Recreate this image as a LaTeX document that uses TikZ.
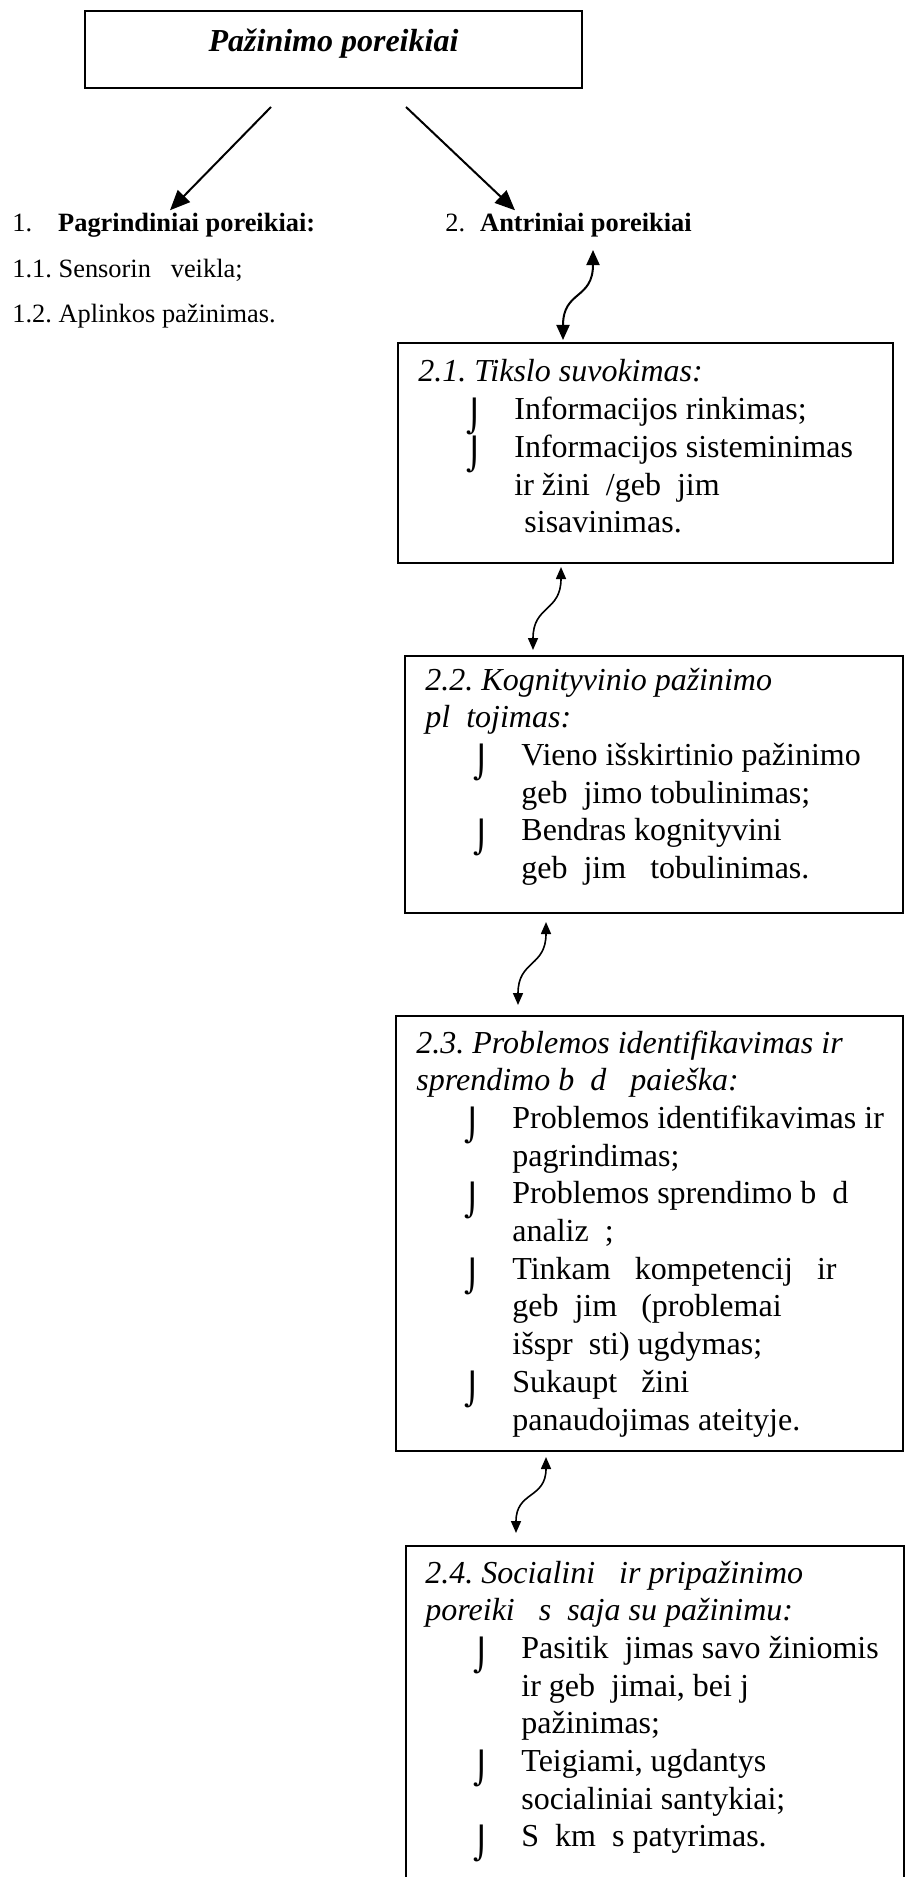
\documentclass[tikz,border=0pt]{standalone}
\usepackage{fontspec}
\setmainfont{Liberation Serif}
\newfontfamily\symfont{DejaVu Sans}
\usetikzlibrary{calc, arrows.meta}
\frenchspacing

% bullet line and continuation line inside the boxes
\newcommand{\itm}[1]{\hspace*{24pt}\makebox[24pt][l]{\raisebox{-4pt}[0pt][0pt]{\scalebox{1}[0.98]{\symfont\char"2321}}}#1}
\newcommand{\cnt}[1]{\hspace*{48pt}#1}

\begin{document}
\begin{tikzpicture}[
    x=0.5pt, y=-0.5pt,
    >={Triangle[length=10pt, width=8.5pt]},
    box/.style={rectangle, draw, line width=1pt, anchor=north west, inner sep=0pt},
    toplabel/.style={anchor=base west, inner sep=0pt, font=\fontsize{13.2}{15}\selectfont},
    boxtext/.style={anchor=base west, inner sep=0pt, font=\fontsize{16}{18.85}\selectfont},
    wave/.style={<->, line width=0.8pt, >={Triangle[length=6pt, width=5pt]}}
]

    \useasboundingbox (0,0) rectangle (904,1877);

    % Nodes ------------------------------------------------------

    \node[box, minimum width=248.5pt, minimum height=38.5pt] (top) at (84,10) {};
    \node[box, minimum width=247.5pt, minimum height=110pt] (b21) at (397,342) {};
    \node[box, minimum width=249pt, minimum height=128.5pt] (b22) at (404,655) {};
    \node[box, minimum width=253.5pt, minimum height=217.5pt] (b23) at (395,1015) {};
    \node[box, minimum width=249pt, minimum height=172.5pt] (b24) at (405,1545) {};

    % labels
    \node[anchor=base, inner sep=0pt, font=\fontsize{16}{19}\selectfont\bfseries\itshape]
        (title) at ($(top.north)+(0,42)$) {Pažinimo poreikiai};

    \node[toplabel] (p1) at (12,232) {1.\hspace*{13pt}\textbf{Pagrindiniai poreikiai:}};
    \node[toplabel] (p11) at (12,278) {1.1. Sensorin~~~veikla;};
    \node[toplabel] (p12) at (12,323) {1.2. Aplinkos pažinimas.};
    \node[toplabel] (p2) at (445,232) {2.\hspace*{7.5pt}\textbf{Antriniai poreikiai}};

    \node[boxtext] (t21) at ($(b21.north west)+(21,40)$) {\parbox[t]{240pt}{\raggedright
        \textit{2.1. Tikslo suvokimas:}\\
        \itm{Informacijos rinkimas;}\\
        \itm{Informacijos sisteminimas}\\
        \cnt{ir žini~~/geb~~jim}\\
        \cnt{\hspace*{5pt}sisavinimas.}}};

    \node[boxtext] (t22) at ($(b22.north west)+(21,35)$) {\parbox[t]{240pt}{\raggedright
        \textit{2.2. Kognityvinio pažinimo}\\
        \textit{pl~~tojimas:}\\
        \itm{Vieno išskirtinio pažinimo}\\
        \cnt{geb~~jimo tobulinimas;}\\
        \itm{Bendras kognityvini}\\
        \cnt{geb~~jim~~~tobulinimas.}}};

    \node[boxtext] (t23) at ($(b23.north west)+(21,38)$) {\parbox[t]{245pt}{\raggedright
        \textit{2.3. Problemos identifikavimas ir}\\
        \textit{sprendimo b~~d~~~paieška:}\\
        \itm{Problemos identifikavimas ir}\\
        \cnt{pagrindimas;}\\
        \itm{Problemos sprendimo b~~d}\\
        \cnt{analiz~~;}\\
        \itm{Tinkam~~~kompetencij~~~ir}\\
        \cnt{geb~~jim~~~(problemai}\\
        \cnt{išspr~~sti) ugdymas;}\\
        \itm{Sukaupt~~~žini}\\
        \cnt{panaudojimas ateityje.}}};

    \node[boxtext] (t24) at ($(b24.north west)+(20,38)$) {\parbox[t]{240pt}{\raggedright
        \textit{2.4. Socialini~~~ir pripažinimo}\\
        \textit{poreiki~~~s~~saja su pažinimu:}\\
        \itm{Pasitik~~jimas savo žiniomis}\\
        \cnt{ir geb~~jimai, bei j}\\
        \cnt{pažinimas;}\\
        \itm{Teigiami, ugdantys}\\
        \cnt{socialiniai santykiai;}\\
        \itm{S~~km~~s patyrimas.}}};

    % Arrows ---------------------------------------------------

    \draw[->, line width=1pt] ($(top.south)+(-62.5,18)$) -- ($(p1.north west)+(158,-3)$);
    \draw[->, line width=1pt] ($(top.south)+(72.5,18)$) -- ($(p2.north west)+(70,-3)$);

    \draw[wave, line width=1pt, >={Triangle[length=7.5pt, width=6.5pt]}]
        ($(p2.south west)+(148,12)$) .. controls +(0,50) and +(0,-50) .. ($(b21.north)+(-82.5,-2)$);
    \draw[wave] ($(b21.south)+(-84.5,3)$) .. controls +(0,45) and +(0,-45) .. ($(b22.north)+(-121,-5)$);
    \draw[wave] ($(b22.south)+(-108,8)$) .. controls +(0,45) and +(0,-45) .. ($(b23.north)+(-131.5,-10)$);
    \draw[wave] ($(b23.south)+(-103.5,5)$) .. controls +(0,42) and +(0,-42) .. ($(b24.north)+(-139,-12)$);

\end{tikzpicture}
\end{document}
